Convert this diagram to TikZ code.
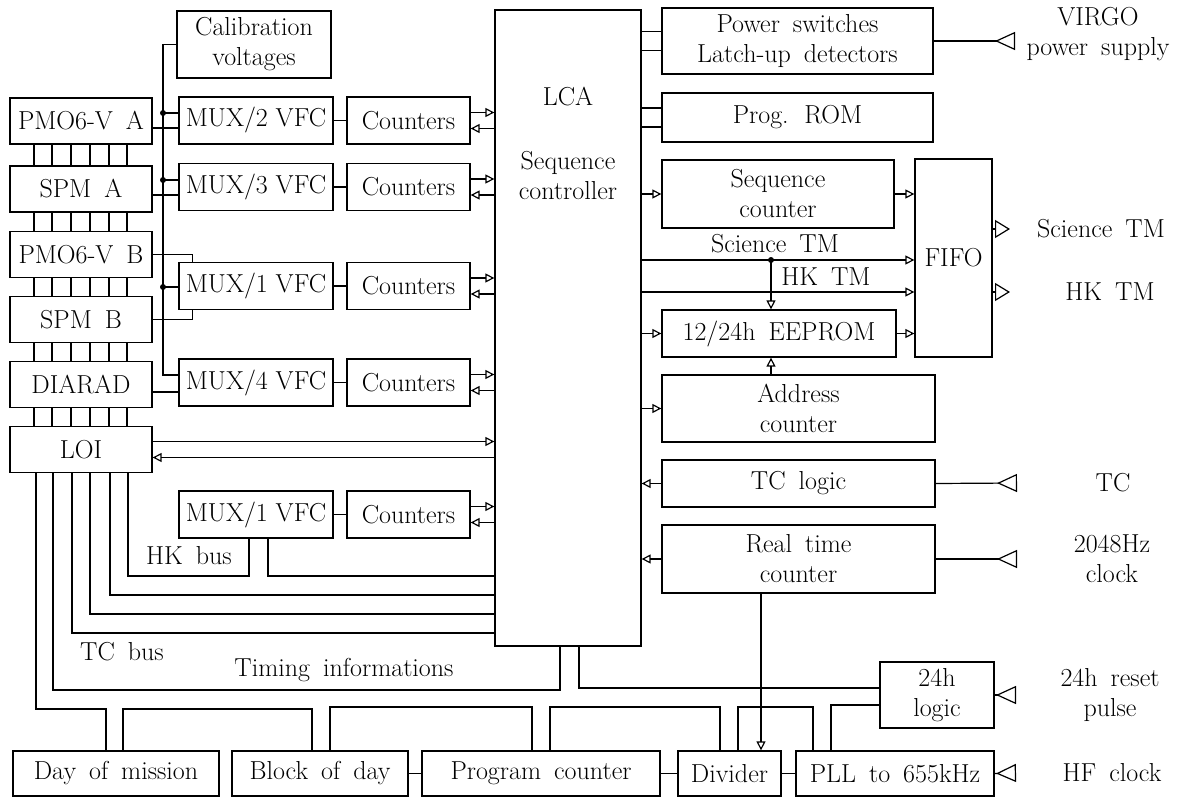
\documentclass[tikz,border=0pt]{standalone}
\usetikzlibrary{arrows.meta}
\protected\def\widespaces{\spaceskip=0.5em\relax}

\begin{document}
\begin{tikzpicture}[x=1pt, y=-1pt, line width=1.2pt,
  every node/.style={font=\fontsize{26}{30}\selectfont\widespaces},
  blk/.style={draw, line width=1.3pt, inner sep=1pt, align=center},
  det/.style={blk, minimum width=142, minimum height=46},
  mux/.style={blk, minimum width=154, minimum height=47, font=\fontsize{26}{30}\selectfont},
  cnt/.style={blk, minimum width=123, minimum height=47},
  bot/.style={blk, minimum height=45},
  lbl/.style={align=center, inner sep=0pt},
  arr/.style={-{Triangle[open, length=9pt, width=9pt]}},
  inp/.style={-{Triangle[open, reversed, length=20pt, width=18pt]}},
  outp/.style={-{Triangle[open, length=15pt, width=18pt]}}]
    \useasboundingbox (0,0) rectangle (1200,797);

    % detectors
    \node[det] (pmA) at (81,121) {PMO6-V A};
    \node[det] (spmA) at (81,189) {SPM A};
    \node[det] (pmB) at (81,254.5) {PMO6-V B};
    \node[det] (spmB) at (81,319.5) {SPM B};
    \node[det] (diarad) at (81,384.5) {DIARAD};
    \node[det] (loi) at (81,449.5) {LOI};

    % converters
    \node[blk, minimum width=154, minimum height=67] (cal) at (254,44.5) {Calibration\\voltages};
    \node[mux] (mux2) at (256,120.5) {MUX/2 VFC};
    \node[cnt] (cnt2) at (408.5,120.5) {Counters};
    \node[mux] (mux3) at (256,187) {MUX/3 VFC};
    \node[cnt] (cnt3) at (408.5,187) {Counters};
    \node[mux] (mux1) at (256,286) {MUX/1 VFC};
    \node[cnt] (cnt1) at (408.5,286) {Counters};
    \node[mux] (mux4) at (256,382.5) {MUX/4 VFC};
    \node[cnt] (cnt4) at (408.5,382.5) {Counters};
    \node[mux] (muxhk) at (256,514.5) {MUX/1 VFC};
    \node[cnt] (cnthk) at (408.5,514.5) {Counters};

    % controller
    \node[blk, minimum width=146, minimum height=636] (lca) at (568,328) {};
    \node[lbl] (lcaname) at (568,97) {LCA};
    \node[lbl] (lcatext) at (568,176) {Sequence\\controller};

    % right column
    \node[blk, minimum width=271, minimum height=66] (pwr) at (797.5,41) {Power switches\\Latch-up detectors};
    \node[blk, minimum width=271, minimum height=49] (rom) at (797.5,117.5) {Prog. ROM};
    \node[blk, minimum width=232, minimum height=68] (seq) at (778,194) {Sequence\\counter};
    \node[blk, minimum width=77, minimum height=198] (fifo) at (953.5,258) {FIFO};
    \node[blk, minimum width=234, minimum height=47] (eep) at (779,333.5) {12/24h EEPROM};
    \node[blk, minimum width=273, minimum height=67] (adr) at (798.5,408.5) {Address\\counter};
    \node[blk, minimum width=273, minimum height=47] (tcl) at (798.5,483.5) {TC logic};
    \node[blk, minimum width=273, minimum height=68] (rtc) at (798.5,559) {Real time\\counter};
    \node[blk, minimum width=114, minimum height=66] (h24) at (937,695) {24h\\logic};

    % bottom row
    \node[bot, minimum width=206] (dom) at (116,773.5) {Day of mission};
    \node[bot, minimum width=176] (bod) at (320,773.5) {Block of day};
    \node[bot, minimum width=238] (pc) at (541,773.5) {Program counter};
    \node[bot, minimum width=103] (div) at (729.5,773.5) {Divider};
    \node[bot, minimum width=198] (pll) at (895,773.5) {PLL to 655kHz};

    % outside signals
    \node[lbl] (virgo) at (1098,34) {VIRGO\\power supply};
    \node[lbl] (scitm) at (1101,229) {Science TM};
    \node[lbl] (hktm) at (1110,292) {HK TM};
    \node[lbl] (tc) at (1113,483) {TC};
    \node[lbl] (clk) at (1112,559) {2048Hz\\clock};
    \node[lbl] (reset) at (1110,695) {24h reset\\pulse};
    \node[lbl] (hf) at (1112,773) {HF clock};

    % bus names
    \node[lbl] (hkbus) at (189,556) {HK bus};
    \node[lbl] (tcbus) at (122,652) {TC bus};
    \node[lbl] (timing) at (344,670) {Timing informations};
    \node[lbl] (scilbl) at (775,244) {Science TM};
    \node[lbl] (hklbl) at (826,277) {HK TM};

    % links between detectors
    \foreach \a/\b in {pmA/spmA, spmA/pmB, pmB/spmB, spmB/diarad, diarad/loi}
      \foreach \xx in {34,52,71,90,109,127} \draw (\a.south -| \xx,0) -- (\b.north -| \xx,0);

    % calibration line
    \coordinate (calbot) at (163,375);
    \draw (cal.west) -| (calbot) -- (calbot -| mux4.west);
    \foreach \m/\yy in {mux2/113, mux3/180, mux1/287} {
      \coordinate (tap) at (163,\yy);
      \draw (tap) -- (tap -| \m.west);
      \fill (tap) circle (3pt);
    }

    % detectors to multiplexers
    \draw (pmA.east |- 0,128) -- (mux2.west |- 0,128);
    \draw (spmA.east |- 0,195) -- (mux3.west |- 0,195);
    \draw (pmB.east) -| ([xshift=14pt]mux1.north west);
    \draw (spmB.east) -| ([xshift=14pt]mux1.south west);
    \draw (diarad.east |- 0,392) -- (mux4.west |- 0,392);

    \foreach \m/\c in {mux2/cnt2, mux3/cnt3, mux1/cnt1, mux4/cnt4, muxhk/cnthk} {
      \draw (\m) -- (\c);
      \draw[arr] ([yshift=8pt]\c.east) -- ([yshift=8pt]\c.east -| lca.west);
      \draw[arr] ([yshift=-8pt]\c.east -| lca.west) -- ([yshift=-8pt]\c.east);
    }
    \draw[arr] ([yshift=8pt]loi.east) -- ([yshift=8pt]loi.east -| lca.west);
    \draw[arr] ([yshift=-8pt]loi.east -| lca.west) -- ([yshift=-8pt]loi.east);

    % buses below LOI
    \coordinate (hkl) at (249,576);
    \coordinate (hkr) at (268,576);
    \draw (loi.south -| 128,0) |- (hkl) -- (hkl |- muxhk.south);
    \draw (hkr |- muxhk.south) -- (hkr) -- (hkr -| lca.west);
    \draw (loi.south -| 110,0) |- (lca.west |- 0,595);
    \draw (loi.south -| 90,0) |- (lca.west |- 0,614);
    \draw (loi.south -| 72,0) |- (lca.west |- 0,633);
    \coordinate (tim) at (560,690);
    \draw (loi.south -| 53,0) |- (tim) -- (tim |- lca.south);
    \coordinate (dayin) at (106,709);
    \draw (loi.south -| 36,0) |- (dayin) -- (dayin |- dom.north);

    \coordinate (rst) at (579,688);
    \draw (lca.south -| rst) -- (rst) -- (rst -| h24.west);

    % bottom row
    \foreach \a/\b/\xa/\xb/\yy in {dom/bod/123/312/709, bod/pc/330/532/707, pc/div/550/720/707, div/pll/738/813/707}
      \draw (\a.north -| \xa,0) |- (\xb,\yy) -- (\b.north -| \xb,0);
    \draw (pll.north -| 831,0) |- (h24.west |- 0,705);
    \draw (bod) -- (pc);
    \draw (pc) -- (div);
    \draw (div) -- (pll);
    \draw[arr] (rtc.south -| 761,0) -- (div.north -| 761,0);

    % right side
    \foreach \yy in {9.5,-9.5} {
      \draw ([yshift=\yy pt]pwr.west -| lca.east) -- ([yshift=\yy pt]pwr.west);
      \draw ([yshift=\yy pt]rom.west -| lca.east) -- ([yshift=\yy pt]rom.west);
    }
    \draw[arr] (seq.west -| lca.east) -- (seq.west);
    \draw[arr] (seq.east) -- (seq.east -| fifo.west);
    \coordinate (scidot) at (771,260);
    \draw[arr] (lca.east |- scidot) -- (fifo.west |- scidot);
    \fill (scidot) circle (3pt);
    \draw[arr] (scidot) -- (scidot |- eep.north);
    \draw[arr] (lca.east |- 0,292) -- (fifo.west |- 0,292);
    \draw[arr] (eep.west -| lca.east) -- (eep.west);
    \draw[arr] (eep.east) -- (eep.east -| fifo.west);
    \draw[arr] (adr.north -| scidot) -- (eep.south -| scidot);
    \draw[arr] (adr.west -| lca.east) -- (adr.west);
    \draw[arr] (tcl.west) -- (tcl.west -| lca.east);
    \draw[arr] (rtc.west) -- (rtc.west -| lca.east);

    % outputs and inputs
    \coordinate (sciout) at (1010,229);
    \coordinate (hkout) at (1010,292);
    \draw[outp] (fifo.east |- sciout) -- (sciout);
    \draw[outp] (fifo.east |- hkout) -- (hkout);
    \coordinate (virgoin) at (1015,41);
    \coordinate (tcin) at (1017,483);
    \coordinate (clkin) at (1017,559);
    \coordinate (rstin) at (1016,695);
    \coordinate (hfin) at (1016,773);
    \draw[inp] (pwr.east) -- (virgoin);
    \draw[inp] (tcl.east) -- (tcin);
    \draw[inp] (rtc.east) -- (clkin);
    \draw[inp] (h24.east) -- (rstin);
    \draw[inp] (pll.east) -- (hfin);
\end{tikzpicture}
\end{document}
